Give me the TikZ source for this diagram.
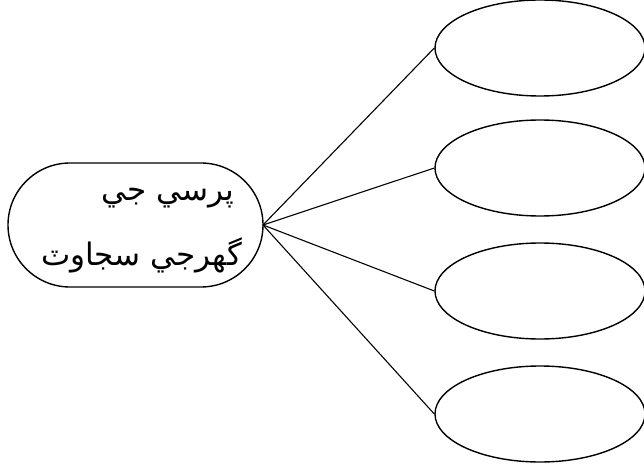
\documentclass[tikz,border=0pt]{standalone}
\usepackage{fontspec}
\newfontfamily\arabicfont[Script=Arabic]{DejaVu Sans}
\TeXXeTstate=1
\usetikzlibrary{shapes.geometric}
\tikzset{
  oval/.style={draw, line width=1.4pt, ellipse, minimum width=210pt, minimum height=96pt, inner sep=0pt},
  hub/.style={draw, line width=1.4pt, rounded corners=62pt, minimum width=255pt, minimum height=124pt},
  conn/.style={line width=1.1pt},
  lbl/.style={anchor=east, inner sep=0pt, font=\arabicfont\fontsize{31}{36}\selectfont}
}
\begin{document}
\begin{tikzpicture}[x=1pt,y=-1pt]
\useasboundingbox (0,0) rectangle (644,470);
\node[hub] (h) at (135.5,225) {};
\node[oval] (e1) at (540,48) {};
\node[oval] (e2) at (540,168) {};
\node[oval] (e3) at (540,291) {};
\node[oval] (e4) at (540,414) {};
\coordinate (c) at (263,225);
\node[lbl] (t1) at (234,198) {\beginR پرسي جي\endR};
\node[lbl] (t2) at (242,255) {\beginR گهرجي سجاوٽ\endR};
\draw[conn] (c) -- (e1.west);
\draw[conn] (c) -- (e2.west);
\draw[conn] (c) -- (e3.west);
\draw[conn] (c) -- (e4.west);
\end{tikzpicture}
\end{document}
